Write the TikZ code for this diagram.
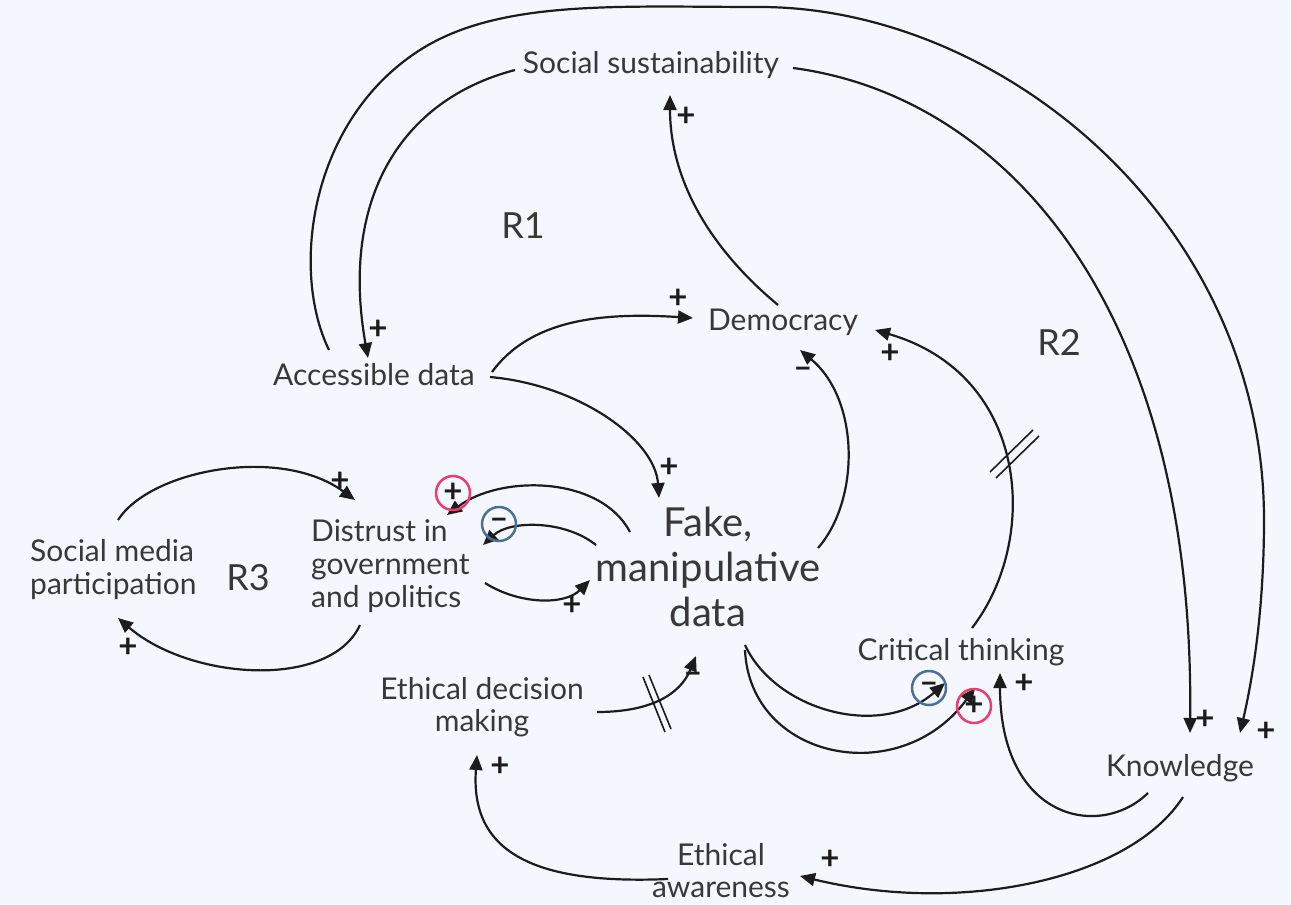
\documentclass[tikz,border=0pt]{standalone}
\usepackage{fontspec}
\setmainfont{Lato}
\usetikzlibrary{arrows.meta}
\definecolor{bg}{HTML}{F4F8FE}
\definecolor{ink}{HTML}{1C1C1C}
\definecolor{txt}{HTML}{383838}
\definecolor{posred}{HTML}{EC3D6E}
\definecolor{negblue}{HTML}{4D6F95}

\begin{document}
\begin{tikzpicture}[x=1pt,y=-1pt,
  var/.style={text=txt, font=\fontsize{30}{33}\selectfont, inner sep=0pt},
  big/.style={text=txt, font=\fontsize{40}{45}\selectfont, inner sep=0pt, align=center},
  loopname/.style={text=txt, font=\fontsize{36}{40}\selectfont, inner sep=0pt},
  link/.style={draw=ink, line width=2.2pt, -{Triangle[length=15pt,width=13pt]}},
  pol/.style={text=ink, font=\bfseries\fontsize{33}{33}\selectfont, inner sep=0pt},
  ring/.style={circle, draw=#1, line width=2.5pt, minimum size=34pt, inner sep=0pt},
  tick/.style={draw=ink, line width=1.6pt},
]
% canvas
\fill[bg] (0,0) rectangle (1291,905);
\useasboundingbox (0,0) rectangle (1291,905);

% variables
\node[var] (soc) at (651,65) {Social sustainability};
\node[var] (dem) at (783,322) {Democracy};
\node[var] (acc) at (374,375) {Accessible data};
\node[big] (fake) at (708,567) {Fake,\\manipulative\\data};
\node[var, align=left, anchor=west] (dist) at (311,566) {Distrust in\\government\\and politics};
\node[var, align=left, anchor=west] (smp) at (30,570) {Social media\\participation};
\node[var] (crit) at (961,652) {Critical thinking};
\node[var, align=center, font=\fontsize{30}{32}\selectfont] (edm) at (482,707) {Ethical decision\\making};
\node[var] (know) at (1180,768) {Knowledge};
\node[var, align=center, font=\fontsize{30}{32}\selectfont] (ea) at (721,871) {Ethical\\awareness};

% loop names
\node[loopname] (r1) at (523,226) {R1};
\node[loopname] (r2) at (1059,342) {R2};
\node[loopname] (r3) at (248,578) {R3};

% causal links
\draw[link] ([shift={(-45,-25)}]acc.center) .. controls (290,270) and (310,120) .. (420,50)
  .. controls (500,-1) and (620,7) .. (760,7)
  .. controls (1000,7) and (1264,220) .. (1264,520)
  .. controls (1264,620) and (1250,690) .. ([shift={(60,-35)}]know.center);
\draw[link] ([shift={(142,3)}]soc.center) .. controls (1000,95) and (1195,300) .. ([shift={(10,-35)}]know.center);
\draw[link] ([shift={(-136,5)}]soc.center) .. controls (400,100) and (340,200) .. ([shift={(-6,-17)}]acc.center);
\draw[link] ([shift={(-5,-17)}]dem.center) .. controls (700,240) and (670,170) .. ([shift={(19,30)}]soc.center);
\draw[link] ([shift={(118,-3)}]acc.center) .. controls (530,320) and (600,312) .. ([shift={(-90,-4)}]dem.center);
\draw[link] ([shift={(116,2)}]acc.center) .. controls (580,385) and (655,440) .. ([shift={(-49,-69)}]fake.center);
\draw[link] ([shift={(110,-19)}]fake.center) .. controls (860,500) and (860,400) .. ([shift={(17,28)}]dem.center);
\draw[link] ([shift={(11,-24)}]crit.center) .. controls (1040,540) and (1030,375) .. ([shift={(92,8)}]dem.center);
\draw[link] ([shift={(-78,-35)}]fake.center) .. controls (600,475) and (500,475) .. ([shift={(136,-51)}]dist.west);
\draw[link] ([shift={(-112,-22)}]fake.center) .. controls (565,520) and (510,520) .. ([shift={(172,-21)}]dist.west);
\draw[link] ([shift={(174,17)}]dist.west) .. controls (520,605) and (565,605) .. ([shift={(-118,13)}]fake.center);
\draw[link] ([shift={(88,-50)}]smp.west) .. controls (150,470) and (280,445) .. ([shift={(44,-66)}]dist.west);
\draw[link] ([shift={(49,59)}]dist.west) .. controls (330,690) and (190,680) .. ([shift={(88,48)}]smp.west);
\draw[link] ([shift={(115,5)}]edm.center) .. controls (650,712) and (680,695) .. ([shift={(-12,89)}]fake.center);
\draw[link] ([shift={(37,78)}]fake.center) .. controls (775,710) and (880,740) .. ([shift={(-16,31)}]crit.center);
\draw[link] ([shift={(37,83)}]fake.center) .. controls (750,760) and (900,790) .. ([shift={(14,36)}]crit.center);
\draw[link] ([shift={(-32,25)}]know.center) .. controls (1100,840) and (1000,820) .. ([shift={(39,21)}]crit.center);
\draw[link] ([shift={(3,29)}]know.center) .. controls (1130,880) and (960,915) .. ([shift={(79,5)}]ea.center);
\draw[link] ([shift={(-53,8)}]ea.center) .. controls (530,885) and (470,850) .. ([shift={(-5,48)}]edm.center);

% delay marks
\draw[tick] (990,472) -- (1033,430);
\draw[tick] (996,478) -- (1039,436);
\draw[tick] (643,677) -- (665,732);
\draw[tick] (649,675) -- (671,729);

% polarities
\node[pol] (p1) at (378,330) {+};
\node[pol] (p2) at (686,117) {+};
\node[pol] (p3) at (678,299) {+};
\node[pol] (p4) at (669,468) {+};
\node[pol] (p5) at (803,373) {–};
\node[pol] (p6) at (890,354) {+};
\node[pol] (p7) at (572,606) {+};
\node[pol] (p8) at (340,482) {+};
\node[pol] (p9) at (128,648) {+};
\node[pol] (p10) at (693,678) {–};
\node[pol] (p11) at (1024,684) {+};
\node[pol] (p12) at (1266,732) {+};
\node[pol] (p13) at (1205,720) {+};
\node[pol] (p14) at (830,860) {+};
\node[pol] (p15) at (500,767) {+};
\node[pol, ring=posred] (c1) at (453,493) {+};
\node[pol, ring=negblue] (c2) at (499,524) {–};
\node[pol, ring=negblue] (c3) at (929,688) {–};
\node[pol, ring=posred] (c4) at (974,706) {+};
\end{tikzpicture}
\end{document}
